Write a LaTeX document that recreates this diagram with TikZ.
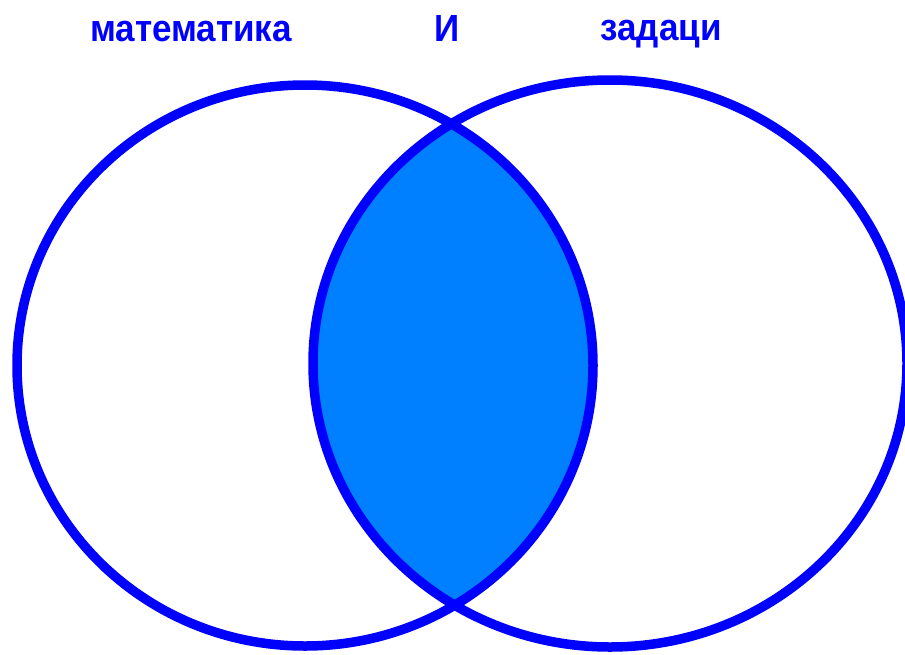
\documentclass[tikz,border=0pt]{standalone}
\usepackage{fontspec}
\setmainfont{Liberation Sans}
\definecolor{ringblue}{HTML}{0000FF}
\definecolor{lensblue}{HTML}{0080FF}
\begin{document}
\begin{tikzpicture}[x=1pt,y=-1pt,
  ring/.style={draw=ringblue,line width=9.5pt},
  lbl/.style={text=ringblue,font=\bfseries\fontsize{35}{38}\selectfont,inner sep=0pt,anchor=base,yscale=1.08}]
\clip (0,0) rectangle (905,654);
\useasboundingbox (0,0) rectangle (905,654);
\begin{scope}
  \clip (305,365.5) ellipse [x radius=288,y radius=280.5];
  \fill[lensblue] (610,363.5) ellipse [x radius=297,y radius=283.5];
\end{scope}
\draw[ring] (305,365.5) ellipse [x radius=288,y radius=280.5];
\draw[ring] (610,363.5) ellipse [x radius=297,y radius=283.5];
\node[lbl] (m) at (191,41) {математика};
\node[lbl] (i) at (447,41) {И};
\node[lbl] (z) at (661,40) {задаци};
\end{tikzpicture}
\end{document}
